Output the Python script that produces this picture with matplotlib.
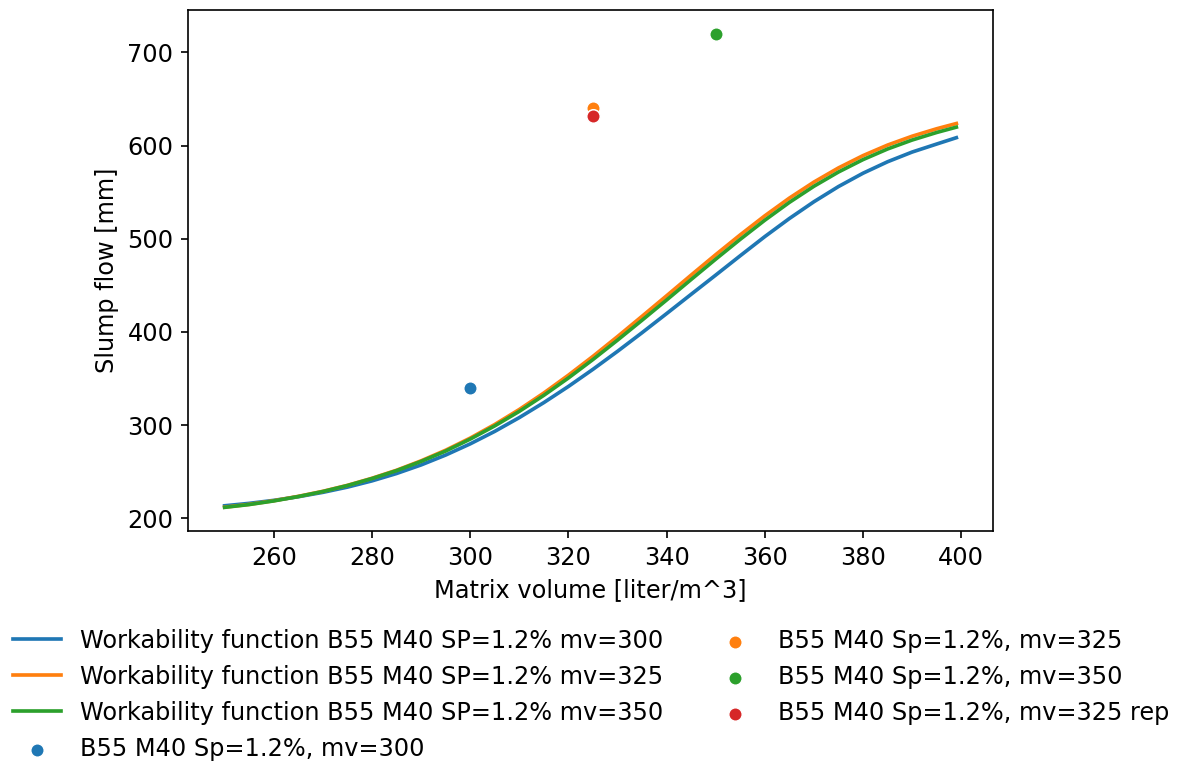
import matplotlib
matplotlib.use("Agg")
import matplotlib.pyplot as plt

plt.rcParams["font.size"] = 11.5
plt.rcParams["lines.linewidth"] = 1.75

# matrix volume grid for the workability functions
mv = [250, 255, 260, 265, 270, 275, 280, 285, 290, 295, 300, 305, 310, 315, 320, 325,
      330, 335, 340, 345, 350, 355, 360, 365, 370, 375, 380, 385, 390, 395, 399]

sf_300 = [213.5, 216.1, 219.3, 223.2, 227.9, 233.5, 240.2, 248.1, 257.3, 267.9, 279.9, 293.3,
          308.1, 324.2, 341.5, 359.9, 379.2, 399.2, 419.7, 440.4, 461.0, 481.8, 502.3, 521.7,
          539.7, 556.0, 570.3, 582.6, 593.0, 601.6, 608.4]
sf_325 = [212.0, 215.0, 218.9, 223.6, 229.0, 235.4, 243.0, 251.6, 261.7, 273.1, 286.1, 300.7,
          316.8, 334.5, 353.6, 373.8, 395.0, 416.8, 438.8, 461.0, 482.9, 504.2, 524.6, 543.6,
          560.8, 576.0, 589.2, 600.5, 610.0, 618.0, 623.6]
sf_350 = [211.8, 214.8, 218.7, 223.4, 228.8, 235.2, 242.7, 251.2, 261.1, 272.2, 285.0, 299.2,
          314.8, 332.0, 350.6, 370.4, 391.2, 412.6, 434.3, 456.3, 478.1, 499.4, 519.9, 539.0,
          556.3, 571.6, 584.9, 596.3, 605.9, 614.0, 619.7]

# measured slump flows
test_mv = [300, 325, 350, 325]
test_sf = [340, 640, 720, 632]
test_labels = ["B55 M40 Sp=1.2%, mv=300", "B55 M40 Sp=1.2%, mv=325",
               "B55 M40 Sp=1.2%, mv=350", "B55 M40 Sp=1.2%, mv=325 rep"]
test_colors = ["#1f77b4", "#ff7f0e", "#2ca02c", "#d62728"]

fig = plt.figure(figsize=(7.86, 5.08), dpi=150)
ax = fig.add_axes([0.1595, 0.3031, 0.6827, 0.6838])

ax.plot(mv, sf_300, color="#1f77b4", label="Workability function B55 M40 SP=1.2% mv=300")
ax.plot(mv, sf_325, color="#ff7f0e", label="Workability function B55 M40 SP=1.2% mv=325")
ax.plot(mv, sf_350, color="#2ca02c", label="Workability function B55 M40 SP=1.2% mv=350")

for i in range(len(test_mv)):
    ax.scatter(test_mv[i], test_sf[i], s=42, color=test_colors[i], edgecolor="white",
               linewidth=0.75, label=test_labels[i], zorder=3)

ax.set_xlabel("Matrix volume [liter/m^3]")
ax.set_ylabel("Slump flow [mm]")

fig.legend(loc="upper center", bbox_to_anchor=(0.5015, 0.203), ncol=2, frameon=False)

fig.savefig("out.png", dpi=150)
